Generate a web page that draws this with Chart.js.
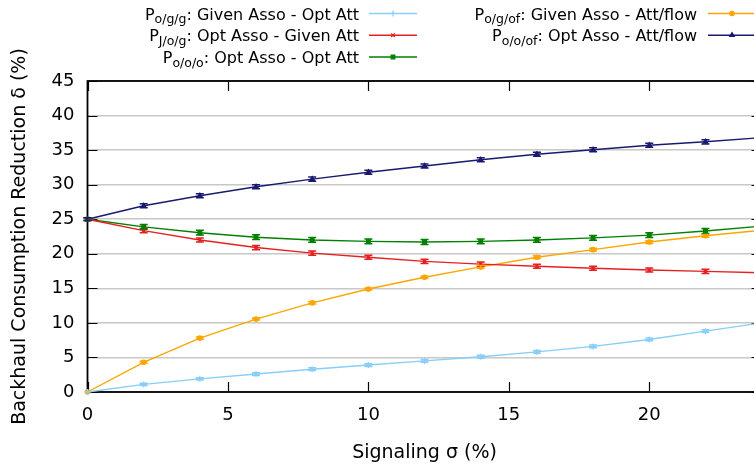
<!DOCTYPE html>
<html><head><meta charset="utf-8">
<script src="https://cdn.jsdelivr.net/npm/chart.js@4/dist/chart.umd.min.js"></script>
<style>
html,body{margin:0;padding:0;overflow:hidden;background:#fff;width:754px;height:469px}
#wrap{width:780px;height:469px;position:relative}
canvas{display:block}
</style>
</head><body><div id="wrap"><canvas id="c" width="780" height="469" style="width:780px;height:469px"></canvas></div>
<script>
// ---- data ----
const sigma = [0, 2, 4, 6, 8, 10, 12, 14, 16, 18, 20, 22, 24];
const xTicks = [0, 5, 10, 15, 20];
const yTicks = [0, 5, 10, 15, 20, 25, 30, 35, 40, 45];

const pOGG  = [0, 1.1, 1.9, 2.6, 3.3, 3.9, 4.5, 5.1, 5.8, 6.6, 7.6, 8.8, 10.0];
const pJOG  = [25, 23.35, 22.0, 20.9, 20.1, 19.5, 18.9, 18.5, 18.2, 17.9, 17.65, 17.45, 17.25];
const pOOO  = [25, 23.9, 23.05, 22.4, 22.0, 21.8, 21.7, 21.8, 22.0, 22.3, 22.7, 23.3, 24.0];
const pOGOF = [0, 4.3, 7.8, 10.55, 12.9, 14.9, 16.6, 18.1, 19.5, 20.6, 21.7, 22.6, 23.4];
const pOOOF = [25, 26.95, 28.4, 29.7, 30.8, 31.8, 32.7, 33.6, 34.4, 35.05, 35.7, 36.2, 36.8];

const errOGG  = [0, 0.15, 0.15, 0.2, 0.2, 0.2, 0.2, 0.2, 0.2, 0.2, 0.2, 0.2, 0.2];
const errJOG  = [0.2, 0.3, 0.3, 0.3, 0.3, 0.3, 0.3, 0.3, 0.3, 0.3, 0.3, 0.3, 0.3];
const errOOO  = [0.2, 0.35, 0.35, 0.35, 0.35, 0.35, 0.35, 0.35, 0.35, 0.35, 0.35, 0.35, 0.35];
const errOGOF = [0, 0.15, 0.15, 0.15, 0.15, 0.15, 0.15, 0.2, 0.2, 0.2, 0.2, 0.2, 0.2];
const errOOOF = [0.2, 0.3, 0.3, 0.3, 0.3, 0.3, 0.3, 0.3, 0.3, 0.3, 0.3, 0.3, 0.3];

const seriesSub  = ['o/g/g', 'J/o/g', 'o/o/o', 'o/g/of', 'o/o/of'];
const seriesText = [': Given Asso - Opt Att', ': Opt Asso - Given Att', ': Opt Asso - Opt Att', ': Given Asso - Att/flow', ': Opt Asso - Att/flow'];

const xTitle = 'Signaling σ (%)';
const yTitle = 'Backhaul Consumption Reduction δ (%)';

// ---- styles ----
const FONT = "'DejaVu Sans', sans-serif";
const colors = ['#87cefa', '#e62020', '#008000', '#ffa500', '#191970'];
const styles = ['cross', 'crossRot', 'rect', 'circle', 'triangle'];
const radii = [3, 2.6, 2.6, 2.2, 2.6];
const values = [pOGG, pJOG, pOOO, pOGOF, pOOOF];
const errs = [errOGG, errJOG, errOOO, errOGOF, errOOOF];

const datasets = values.map((vals, i) => ({
  label: 'P' + seriesSub[i] + seriesText[i],
  data: sigma.map((s, k) => ({x: s, y: vals[k]})),
  errors: errs[i],
  borderColor: colors[i],
  backgroundColor: colors[i],
  borderWidth: 1.4,
  pointStyle: styles[i],
  pointRadius: radii[i],
  pointBorderWidth: 1.2,
  pointHoverRadius: radii[i],
  tension: 0,
  clip: false
}));

const frameTicks = {
  id: 'frameTicks',
  beforeDatasetsDraw(chart) {
    const {ctx, chartArea: a, scales: {x, y}} = chart;
    ctx.save();
    ctx.strokeStyle = '#000';
    ctx.lineWidth = 1.2;
    ctx.beginPath();
    const tl = 10;
    yTicks.forEach(v => {
      const py = Math.round(y.getPixelForValue(v)) + 0.5;
      ctx.moveTo(a.left, py); ctx.lineTo(a.left + tl, py);
      ctx.moveTo(a.right, py); ctx.lineTo(a.right - tl, py);
    });
    xTicks.forEach(v => {
      const px = Math.round(x.getPixelForValue(v)) + 0.5;
      ctx.moveTo(px, a.bottom); ctx.lineTo(px, a.bottom - tl);
      ctx.moveTo(px, a.top); ctx.lineTo(px, a.top + tl);
    });
    ctx.stroke();
    ctx.lineWidth = 1.8;
    ctx.strokeRect(a.left, a.top, a.right - a.left, a.bottom - a.top);
    ctx.restore();
  }
};

const errorBars = {
  id: 'errorBars',
  afterDatasetsDraw(chart) {
    const {ctx, scales: {x, y}} = chart;
    ctx.save();
    chart.data.datasets.forEach(ds => {
      ctx.strokeStyle = ds.borderColor;
      ctx.lineWidth = 1.5;
      ds.data.forEach((p, k) => {
        const e = ds.errors[k];
        if (!e) return;
        const px = x.getPixelForValue(p.x);
        const y1 = y.getPixelForValue(p.y + e), y2 = y.getPixelForValue(p.y - e);
        ctx.beginPath();
        ctx.moveTo(px, y1); ctx.lineTo(px, y2);
        ctx.moveTo(px - 4, y1); ctx.lineTo(px + 4, y1);
        ctx.moveTo(px - 4, y2); ctx.lineTo(px + 4, y2);
        ctx.stroke();
      });
    });
    ctx.restore();
  }
};

const keyLegend = {
  id: 'keyLegend',
  afterDraw(chart) {
    const {ctx} = chart;
    const cols = [
      {textRight: 359, lx1: 369, lx2: 417, rows: [0, 1, 2]},
      {textRight: 697, lx1: 708, lx2: 756, rows: [3, 4]}
    ];
    const rowY = [13.5, 35.2, 57];
    ctx.save();
    cols.forEach(col => {
      col.rows.forEach((si, r) => {
        const cy = rowY[r];
        const base = cy + 6;
        ctx.font = '16px ' + FONT;
        const wP = ctx.measureText('P').width;
        const wT = ctx.measureText(seriesText[si]).width;
        ctx.font = '12.5px ' + FONT;
        const wS = ctx.measureText(seriesSub[si]).width;
        let xs = col.textRight - (wP + wS + wT);
        ctx.fillStyle = '#000';
        ctx.textBaseline = 'alphabetic';
        ctx.textAlign = 'left';
        ctx.font = '16px ' + FONT;
        ctx.fillText('P', xs, base);
        ctx.font = '12.5px ' + FONT;
        ctx.fillText(seriesSub[si], xs + wP, base + 3.5);
        ctx.font = '16px ' + FONT;
        ctx.fillText(seriesText[si], xs + wP + wS, base);
        ctx.strokeStyle = colors[si];
        ctx.lineWidth = 1.5;
        ctx.beginPath();
        ctx.moveTo(col.lx1, cy); ctx.lineTo(col.lx2, cy);
        ctx.stroke();
        ctx.fillStyle = colors[si];
        ctx.lineWidth = 1.2;
        Chart.helpers.drawPoint(ctx, {pointStyle: styles[si], radius: radii[si], rotation: 0, borderWidth: 1.2}, (col.lx1 + col.lx2) / 2, cy);
      });
    });
    ctx.restore();
  }
};

new Chart(document.getElementById('c'), {
  type: 'line',
  data: {datasets},
  plugins: [frameTicks, errorBars, keyLegend],
  options: {
    responsive: false,
    animation: false,
    events: [],
    layout: {padding: {left: 0, top: 81, right: 18.4, bottom: 0}},
    plugins: {legend: {display: false}, tooltip: {enabled: false}},
    scales: {
      x: {
        type: 'linear', min: 0, max: 24,
        afterFit(s) { s.height = 77; },
        afterBuildTicks(s) { s.ticks = xTicks.map(v => ({value: v})); },
        grid: {display: false, drawTicks: false},
        border: {display: false},
        ticks: {color: '#000', font: {family: FONT, size: 18}, padding: 13, maxRotation: 0},
        title: {display: true, text: xTitle, color: '#000', font: {family: FONT, size: 19}, padding: {top: 0, bottom: 5}}
      },
      y: {
        min: 0, max: 45,
        afterFit(s) { s.width = 87.5; },
        afterBuildTicks(s) { s.ticks = yTicks.map(v => ({value: v})); },
        grid: {color: '#c8c8c8', lineWidth: 1.5, drawTicks: false},
        border: {display: false},
        ticks: {color: '#000', font: {family: FONT, size: 18}, padding: 13},
        title: {display: true, text: yTitle, color: '#000', font: {family: FONT, size: 19}, padding: {top: 9, bottom: 0}}
      }
    }
  }
});
</script>
</body></html>
